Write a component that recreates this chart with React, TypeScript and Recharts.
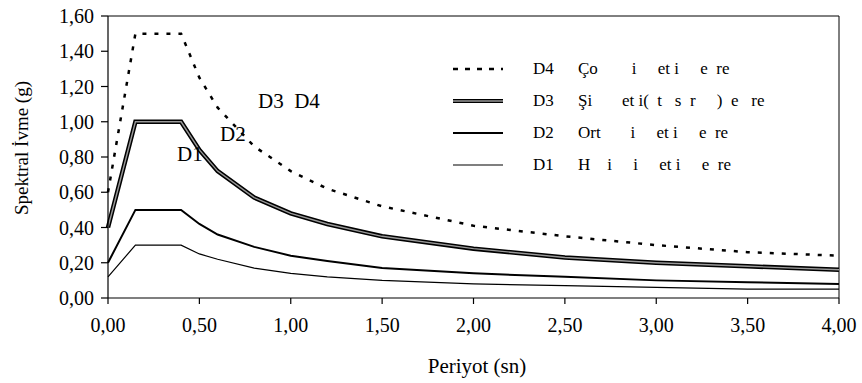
import { LineChart, Line, XAxis, YAxis, ReferenceLine } from 'recharts';

// Periyot (sn) ve okunan spektral ivme değerleri (g)
const periods = [0, 0.15, 0.4, 0.5, 0.6, 0.8, 1.0, 1.2, 1.5, 2.0, 2.5, 3.0, 3.5, 4.0];
const d4 = [0.6, 1.5, 1.5, 1.25, 1.08, 0.86, 0.72, 0.62, 0.52, 0.41, 0.35, 0.3, 0.26, 0.24];
const d3 = [0.4, 1.0, 1.0, 0.84, 0.72, 0.57, 0.48, 0.42, 0.35, 0.28, 0.23, 0.2, 0.18, 0.16];
const d2 = [0.2, 0.5, 0.5, 0.42, 0.36, 0.29, 0.24, 0.21, 0.17, 0.14, 0.12, 0.1, 0.09, 0.08];
const d1 = [0.12, 0.3, 0.3, 0.25, 0.22, 0.17, 0.14, 0.12, 0.1, 0.08, 0.07, 0.06, 0.05, 0.05];

const xTicks = [0, 0.5, 1, 1.5, 2, 2.5, 3, 3.5, 4];
const yTicks = [0, 0.2, 0.4, 0.6, 0.8, 1.0, 1.2, 1.4, 1.6];

const legendCodes = ['D4', 'D3', 'D2', 'D1'];
const legendTexts = [
  'Ço        i     et i     e  re',
  'Şi       et i(  t   s  r     )  e   re',
  'Ort       i     et i     e  re',
  'H    i     i     et i     e  re',
];

const data = periods.map((t, i) => ({ t, d1: d1[i], d2: d2[i], d3: d3[i], d4: d4[i] }));

const FONT = '"Liberation Serif", "Times New Roman", serif';
const fmt = (v: number) => v.toFixed(2).replace('.', ',');

function Sample({ code }: { code: string }) {
  return (
    <svg width={50} height={10} style={{ display: 'block' }}>
      {code === 'D4' && <line x1={0} y1={5} x2={50} y2={5} stroke="#000" strokeWidth={2.5} strokeDasharray="5 7" />}
      {code === 'D3' && (
        <>
          <line x1={0} y1={5} x2={50} y2={5} stroke="#000" strokeWidth={4} />
          <line x1={0} y1={5} x2={50} y2={5} stroke="#999" strokeWidth={1.3} />
        </>
      )}
      {code === 'D2' && <line x1={0} y1={5} x2={50} y2={5} stroke="#000" strokeWidth={2} />}
      {code === 'D1' && <line x1={0} y1={5} x2={50} y2={5} stroke="#000" strokeWidth={1.2} />}
    </svg>
  );
}

export default function App() {
  return (
    <div style={{ position: 'absolute', left: 0, top: 0, width: 862, height: 383, background: '#fff', fontFamily: FONT }}>
      <LineChart width={862} height={383} data={data} margin={{ top: 16, right: 23, bottom: 55, left: 48 }}>
        <XAxis
          dataKey="t"
          type="number"
          domain={[0, 4]}
          ticks={xTicks}
          tickFormatter={fmt}
          height={30}
          tickSize={6}
          tickMargin={14}
          stroke="#000"
          strokeWidth={1.2}
          tick={{ fill: '#000', fontSize: 20, fontFamily: FONT }}
        />
        <YAxis
          type="number"
          domain={[0, 1.6]}
          ticks={yTicks}
          tickFormatter={fmt}
          width={60}
          tickSize={7}
          tickMargin={7}
          stroke="#000"
          strokeWidth={1.2}
          tick={{ fill: '#000', fontSize: 20, fontFamily: FONT }}
        />
        <ReferenceLine y={1.6} stroke="#000" strokeWidth={1} />
        <ReferenceLine x={4} stroke="#000" strokeWidth={1} />
        <Line dataKey="d1" type="linear" stroke="#000" strokeWidth={1.2} dot={false} isAnimationActive={false} />
        <Line dataKey="d2" type="linear" stroke="#000" strokeWidth={2} dot={false} isAnimationActive={false} />
        <Line dataKey="d3" type="linear" stroke="#000" strokeWidth={4.5} dot={false} isAnimationActive={false} />
        <Line dataKey="d3" type="linear" stroke="#999" strokeWidth={1.4} dot={false} isAnimationActive={false} />
        <Line dataKey="d4" type="linear" stroke="#000" strokeWidth={2.5} strokeDasharray="4 8" dot={false} isAnimationActive={false} />
      </LineChart>

      <div
        style={{
          position: 'absolute',
          left: 22,
          top: 148,
          transform: 'translate(-50%, -50%) rotate(-90deg)',
          whiteSpace: 'nowrap',
          fontSize: 19,
        }}
      >
        Spektral İvme (g)
      </div>
      <div style={{ position: 'absolute', left: 477, top: 366, transform: 'translate(-50%, -50%)', whiteSpace: 'nowrap', fontSize: 21 }}>
        Periyot (sn)
      </div>

      {/* eğri üzerindeki etiketler */}
      <div style={{ position: 'absolute', left: 258, top: 89, fontSize: 21, whiteSpace: 'pre' }}>D3  D4</div>
      <div style={{ position: 'absolute', left: 220, top: 122, fontSize: 21 }}>D2</div>
      <div style={{ position: 'absolute', left: 177, top: 142, fontSize: 21 }}>D1</div>

      <div style={{ position: 'absolute', left: 453, top: 53 }}>
        {legendCodes.map((code, i) => (
          <div key={code} style={{ display: 'flex', alignItems: 'center', height: 32 }}>
            <Sample code={code} />
            <span style={{ marginLeft: 30, width: 45, fontSize: 17 }}>{code}</span>
            <span style={{ fontSize: 17, whiteSpace: 'pre' }}>{legendTexts[i]}</span>
          </div>
        ))}
      </div>
    </div>
  );
}
